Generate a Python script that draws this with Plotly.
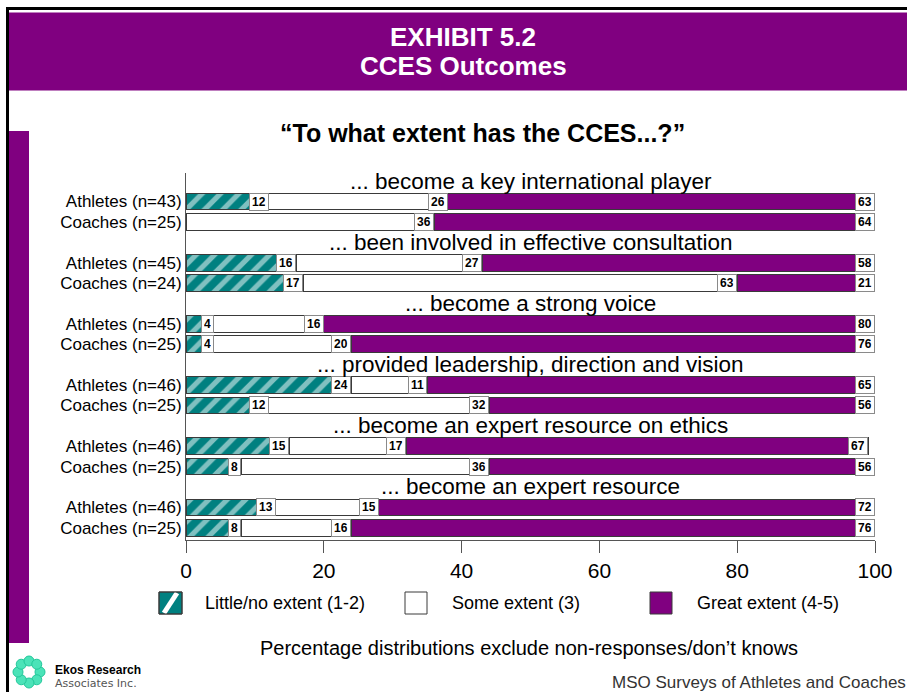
import math
import plotly.graph_objects as go

# ---- data -------------------------------------------------------------
questions = [
    "... become a key international player",
    "... been involved in effective consultation",
    "... become a strong voice",
    "... provided leadership, direction and vision",
    "... become an expert resource on ethics",
    "... become an expert resource",
]
respondents = [
    "Athletes (n=43)", "Coaches (n=25)",
    "Athletes (n=45)", "Coaches (n=24)",
    "Athletes (n=45)", "Coaches (n=25)",
    "Athletes (n=46)", "Coaches (n=25)",
    "Athletes (n=46)", "Coaches (n=25)",
    "Athletes (n=46)", "Coaches (n=25)",
]
little_extent = [12, 0, 16, 17, 4, 4, 24, 12, 15, 8, 13, 8]
some_extent = [26, 36, 27, 63, 16, 20, 11, 32, 17, 36, 15, 16]
great_extent = [63, 64, 58, 21, 80, 76, 65, 56, 67, 56, 72, 76]
series_names = ["Little/no extent (1-2)", "Some extent (3)", "Great extent (4-5)"]
x_ticks = [0, 20, 40, 60, 80, 100]

# ---- styling ----------------------------------------------------------
TEAL = "#008080"
PURPLE = "#800080"
EDGE = "#3a3a3a"
FONT = "Arial, Liberation Sans, sans-serif"

# each question occupies three rows: heading, athletes, coaches
heading_rows = [3 * i for i in range(len(questions))]
bar_rows = []
for i in range(len(questions)):
    bar_rows += [3 * i + 1, 3 * i + 2]

# plot-area geometry in page pixels
L, R, T, B = 186, 875, 173, 540
W_PAGE, H_PAGE = 907, 692


def pxx(x):
    return (x - L) / (R - L)


def pxy(y):
    return (B - y) / (B - T)


fig = go.Figure()

fig.add_trace(go.Bar(
    y=bar_rows, x=little_extent, orientation="h", name=series_names[0],
    width=0.82,
    marker=dict(color=TEAL, line=dict(color=EDGE, width=1),
                pattern=dict(shape="/", fgcolor="white", bgcolor=TEAL,
                             size=13, solidity=0.4, fillmode="overlay")),
    hoverinfo="x+name", showlegend=False,
))
fig.add_trace(go.Bar(
    y=bar_rows, x=some_extent, orientation="h", name=series_names[1],
    width=0.82,
    marker=dict(color="white", line=dict(color=EDGE, width=1)),
    hoverinfo="x+name", showlegend=False,
))
fig.add_trace(go.Bar(
    y=bar_rows, x=great_extent, orientation="h", name=series_names[2],
    width=0.82,
    marker=dict(color=PURPLE, line=dict(color=EDGE, width=1)),
    hoverinfo="x+name", showlegend=False,
))

annotations = []

# boxed value labels at the inner end of each segment
for row, a, b, c in zip(bar_rows, little_extent, some_extent, great_extent):
    cum = 0
    for v in (a, b, c):
        cum += v
        if v <= 0:
            continue
        annotations.append(dict(
            x=min(cum, 100), y=row, xref="x", yref="y",
            text=f"<b>{v}</b>", showarrow=False,
            xanchor="right", yanchor="middle",
            font=dict(family=FONT, size=12, color="black"),
            bgcolor="white", bordercolor="#8a8a8a", borderwidth=1,
            borderpad=2, height=12,
        ))

# question headings
for row, q in zip(heading_rows, questions):
    annotations.append(dict(
        x=50, y=row, xref="x", yref="y", text=q, showarrow=False,
        xanchor="center", yanchor="middle",
        font=dict(family=FONT, size=22.5, color="black"),
    ))

shapes = []

# page frame and header band
shapes.append(dict(type="rect", xref="paper", yref="paper",
                   x0=pxx(6), x1=pxx(W_PAGE + 5), y0=pxy(10), y1=pxy(7),
                   fillcolor="black", line=dict(width=0), layer="above"))
shapes.append(dict(type="rect", xref="paper", yref="paper",
                   x0=pxx(6), x1=pxx(9), y0=pxy(H_PAGE + 5), y1=pxy(7),
                   fillcolor="black", line=dict(width=0), layer="above"))
shapes.append(dict(type="rect", xref="paper", yref="paper",
                   x0=pxx(9), x1=pxx(W_PAGE + 5), y0=pxy(90.5), y1=pxy(12.5),
                   fillcolor=PURPLE, line=dict(width=0), layer="below"))
shapes.append(dict(type="rect", xref="paper", yref="paper",
                   x0=pxx(9), x1=pxx(29), y0=pxy(643), y1=pxy(131),
                   fillcolor=PURPLE, line=dict(width=0), layer="below"))

annotations.append(dict(
    x=pxx(463), y=pxy(37), xref="paper", yref="paper",
    text="<b>EXHIBIT 5.2</b>", showarrow=False,
    xanchor="center", yanchor="middle",
    font=dict(family=FONT, size=26, color="white"),
))
annotations.append(dict(
    x=pxx(463), y=pxy(66), xref="paper", yref="paper",
    text="<b>CCES Outcomes</b>", showarrow=False,
    xanchor="center", yanchor="middle",
    font=dict(family=FONT, size=26, color="white"),
))
annotations.append(dict(
    x=pxx(482), y=pxy(133), xref="paper", yref="paper",
    text="<b>\u201cTo what extent has the CCES...?\u201d</b>", showarrow=False,
    xanchor="center", yanchor="middle",
    font=dict(family=FONT, size=25, color="black"),
))

# legend row
swatches = [(159, 182), (405, 427), (650, 672)]
label_x = [203, 450, 695]
fills = [TEAL, "white", PURPLE]
for (x0, x1), lx, fill, name in zip(swatches, label_x, fills, series_names):
    shapes.append(dict(type="rect", xref="paper", yref="paper",
                       x0=pxx(x0), x1=pxx(x1), y0=pxy(614), y1=pxy(592),
                       fillcolor=fill, line=dict(color=EDGE, width=1)))
    annotations.append(dict(
        x=pxx(lx), y=pxy(603), xref="paper", yref="paper", text=name,
        showarrow=False, xanchor="left", yanchor="middle",
        font=dict(family=FONT, size=18, color="black"),
    ))
# single white stripe across the hatched swatch
shapes.append(dict(type="line", xref="paper", yref="paper",
                   x0=pxx(164), y0=pxy(613), x1=pxx(177), y1=pxy(593),
                   line=dict(color="white", width=5)))
shapes.append(dict(type="rect", xref="paper", yref="paper",
                   x0=pxx(159), x1=pxx(182), y0=pxy(614), y1=pxy(592),
                   fillcolor="rgba(0,0,0,0)", line=dict(color=EDGE, width=1)))

annotations.append(dict(
    x=pxx(529), y=pxy(648), xref="paper", yref="paper",
    text="Percentage distributions exclude non-responses/don\u2019t knows",
    showarrow=False, xanchor="center", yanchor="middle",
    font=dict(family=FONT, size=20, color="black"),
))
annotations.append(dict(
    x=pxx(610), y=pxy(682), xref="paper", yref="paper",
    text="MSO Surveys of Athletes and Coaches",
    showarrow=False, xanchor="left", yanchor="middle",
    font=dict(family=FONT, size=17, color="#333333"),
))

# company mark: ring of small blobs
cx, cy, rr = 29, 672, 11
for k in range(8):
    ang = 2 * math.pi * k / 8
    bx, by = cx + rr * math.cos(ang), cy + rr * math.sin(ang)
    shapes.append(dict(type="circle", xref="paper", yref="paper",
                       x0=pxx(bx - 5), x1=pxx(bx + 5),
                       y0=pxy(by + 5), y1=pxy(by - 5),
                       fillcolor="#4be3b8", line=dict(color="#22c79a", width=1)))
annotations.append(dict(
    x=pxx(53), y=pxy(670), xref="paper", yref="paper",
    text="<b>Ekos Research</b>", showarrow=False,
    xanchor="left", yanchor="middle",
    font=dict(family=FONT, size=12, color="black"),
))
annotations.append(dict(
    x=pxx(53), y=pxy(683), xref="paper", yref="paper",
    text="Associates Inc.", showarrow=False,
    xanchor="left", yanchor="middle",
    font=dict(family="DejaVu Sans", size=11, color="#555555"),
))

fig.update_layout(
    barmode="stack",
    width=W_PAGE, height=H_PAGE,
    margin=dict(l=L, r=W_PAGE - R, t=T, b=H_PAGE - B, autoexpand=False),
    paper_bgcolor="white", plot_bgcolor="white",
    showlegend=False,
    annotations=annotations,
    shapes=shapes,
    xaxis=dict(
        range=[0, 100], tickvals=x_ticks, ticktext=[str(t) for t in x_ticks],
        ticks="outside", ticklen=12, tickcolor="#555555",
        showline=True, linecolor="#555555", linewidth=1,
        showgrid=False, zeroline=False, fixedrange=True,
        tickfont=dict(family=FONT, size=21, color="black"),
    ),
    yaxis=dict(
        range=[17.6, -0.4], tickvals=bar_rows, ticktext=respondents,
        ticks="", showline=True, linecolor="#555555", linewidth=1,
        showgrid=False, zeroline=False, fixedrange=True,
        tickfont=dict(family=FONT, size=17, color="black"),
    ),
)

fig.write_html("out.html")
